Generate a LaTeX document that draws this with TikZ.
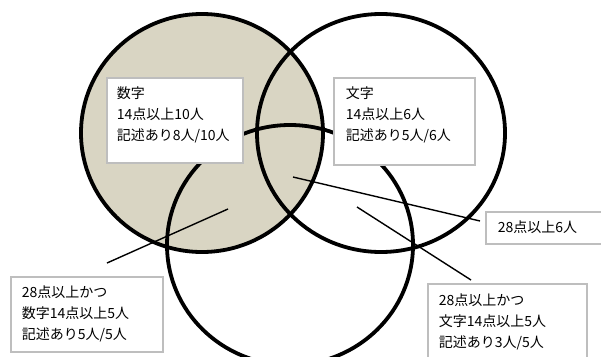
\documentclass[tikz,border=0pt]{standalone}
\usepackage{fontspec}
\setmainfont{Noto Sans CJK JP}
\definecolor{tanfill}{RGB}{217,213,195}
\definecolor{boxgray}{RGB}{190,190,190}
\begin{document}
\begin{tikzpicture}[x=1pt,y=-1pt,
  ring/.style={line width=3.8pt,draw=black},
  conn/.style={line width=1.4pt,draw=black},
  lbl/.style={draw=boxgray,line width=1.6pt,fill=white,rectangle,anchor=north west,
    align=left,inner ysep=8pt,text height=13pt,
    font=\fontsize{14}{21}\selectfont}
]
\useasboundingbox (0,0) rectangle (601,356);
\clip (0,0) rectangle (601,356);
% circles
\fill[tanfill] (202,133) ellipse [x radius=121, y radius=119];
\draw[ring] (202,133) ellipse [x radius=121, y radius=119];
\draw[ring] (381,133) ellipse [x radius=124, y radius=119];
\draw[ring] (290,245) ellipse [x radius=123, y radius=120];
% connector ends
\coordinate (c6a) at (293,177);
\coordinate (c6b) at (480,221);
\coordinate (cna) at (228,209);
\coordinate (cnb) at (107,263);
\coordinate (cma) at (357,207);
\coordinate (cmb) at (471,280);
\draw[conn] (c6a) -- (c6b);
\draw[conn] (cna) -- (cnb);
\draw[conn] (cma) -- (cmb);
% labels
\node[lbl,inner xsep=10pt,text width=116pt,text depth=56pt] (num) at (106,77)
  {数字\\14点以上10人\\記述あり8人/10人};
\node[lbl,inner xsep=12pt,text width=117pt,text depth=58pt] (moji) at (333,77)
  {文字\\14点以上6人\\記述あり5人/6人};
\node[lbl,inner xsep=12pt,text width=100pt,text depth=3pt] (six) at (485,211)
  {28点以上6人};
\node[lbl,inner xsep=11pt,text width=130pt,text depth=46pt] (bl) at (10,276)
  {28点以上かつ\\数字14点以上5人\\記述あり5人/5人};
\node[lbl,inner xsep=11pt,text width=137pt,text height=14pt,text depth=60pt] (br) at (427,283)
  {28点以上かつ\\文字14点以上5人\\記述あり3人/5人};
\end{tikzpicture}
\end{document}
